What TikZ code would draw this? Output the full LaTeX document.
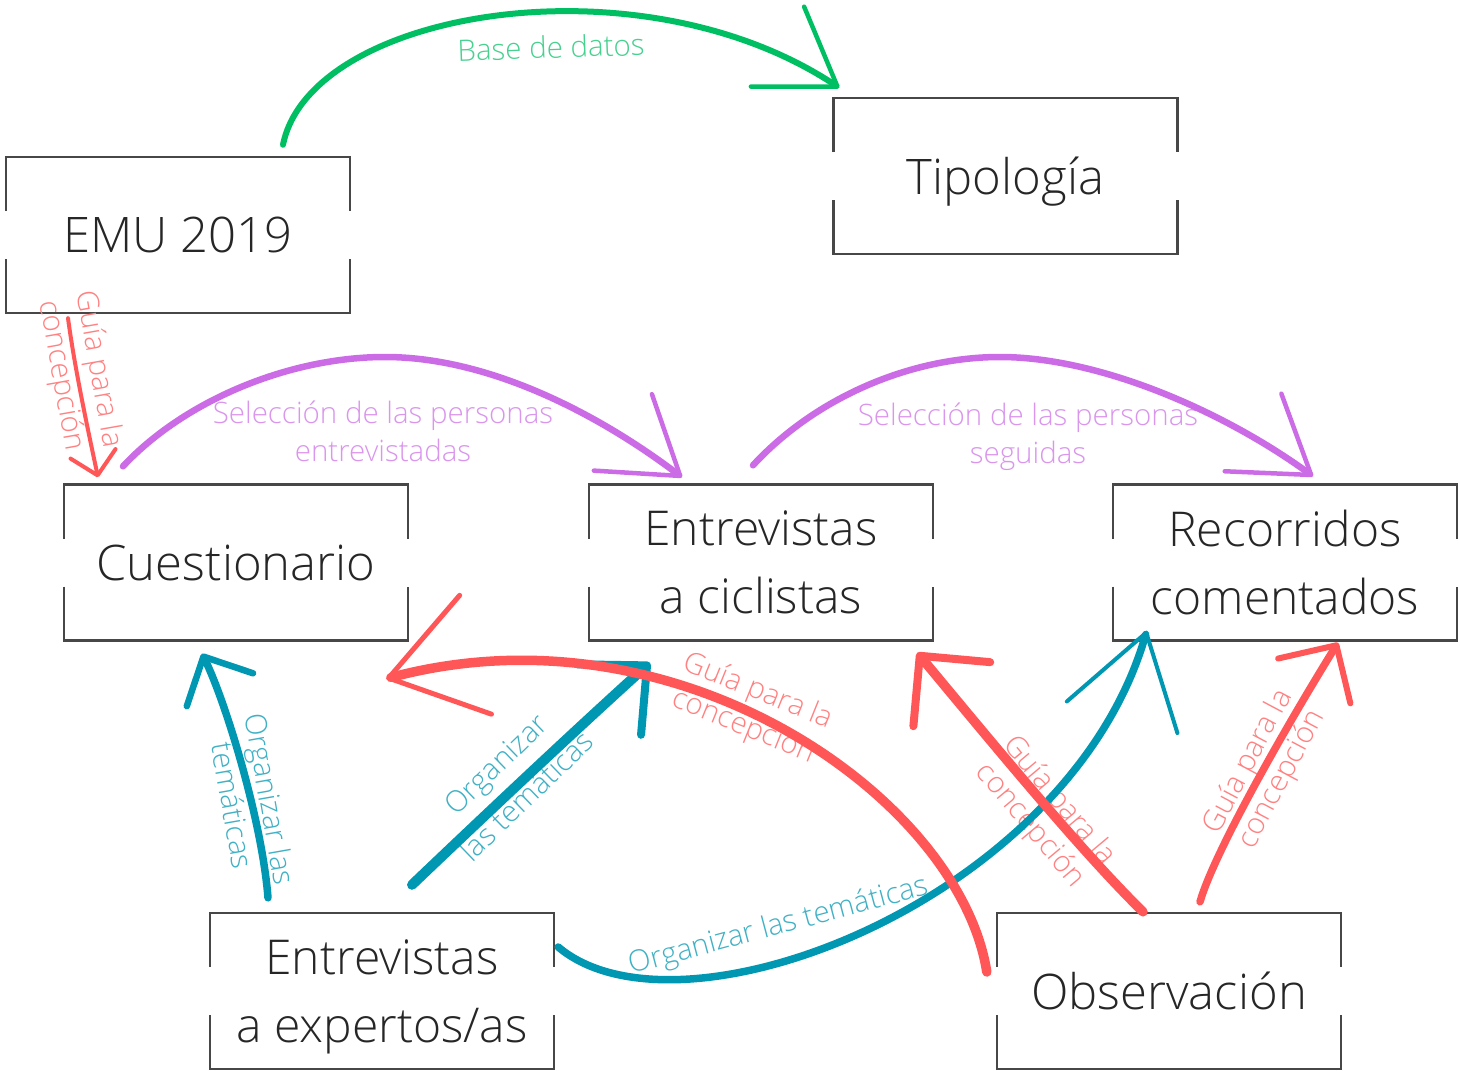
\documentclass[tikz,border=0pt]{standalone}
\usepackage{fontspec}
\IfFontExistsTF{Open Sans Light}{%
  \setmainfont{Open Sans Light}%
  \newcommand{\fsingle}{\fontsize{49}{60}\selectfont}%
  \newcommand{\fdouble}{\fontsize{48}{68}\selectfont}%
  \newcommand{\flabel}{\fontsize{29.5}{38}\selectfont}%
  \newcommand{\flabelwide}{\fontsize{29.5}{44}\selectfont}%
}{%
  \setmainfont{Open Sans}%
  \newcommand{\fsingle}{\fontsize{47.5}{60}\selectfont}%
  \newcommand{\fdouble}{\fontsize{46}{68}\selectfont}%
  \newcommand{\flabel}{\fontsize{28}{38}\selectfont}%
  \newcommand{\flabelwide}{\fontsize{28}{44}\selectfont}%
}
\usetikzlibrary{arrows.meta}
\definecolor{cgreen}{HTML}{00BF63}
\definecolor{cpurple}{HTML}{CB6CE6}
\definecolor{cred}{HTML}{FF5757}
\definecolor{cteal}{HTML}{0097B2}
\definecolor{cbox}{HTML}{474747}
\definecolor{ctext}{HTML}{262626}
\colorlet{lgreen}{cgreen!72!white}
\colorlet{lpurple}{cpurple!72!white}
\colorlet{lred}{cred!75!white}
\colorlet{lteal}{cteal!75!white}
\newcommand{\gapframe}[1]{%
  \draw[boxline] ([yshift=24pt]#1.west) |- (#1.north east) -- ([yshift=24pt]#1.east);
  \draw[boxline] ([yshift=-24pt]#1.west) |- (#1.south east) -- ([yshift=-24pt]#1.east);}
\begin{document}
\begin{tikzpicture}[x=1pt,y=-1pt,
  boxnode/.style={minimum width=344pt, minimum height=156pt, inner sep=0pt, align=center,
    text=ctext, text depth=0pt, font=\fsingle},
  boxnodeb/.style={boxnode, font=\fdouble},
  boxline/.style={draw=cbox, line width=2.5pt},
  lbl/.style={font=\flabel, align=center, inner sep=0pt, text depth=0pt},
  conn/.style={line cap=round, line join=round},
]
\fill[white] (0,0) rectangle (1460,1071);
\useasboundingbox (0,0) rectangle (1460,1071);

% boxes
\node[boxnode] (emu) at (178,235) {EMU 2019};
\node[boxnode] (tipo) at (1005.5,176) {Tipología};
\node[boxnode] (cues) at (236,562.5) {Cuestionario};
\node[boxnodeb] (cicl) at (761,562.5) {Entrevistas\\a ciclistas};
\node[boxnodeb] (reco) at (1285,562.5) {Recorridos\\comentados};
\node[boxnodeb] (expe) at (382,991) {Entrevistas\\a expertos/as};
\node[boxnode] (obse) at (1169,991) {Observación};
\gapframe{emu}
\gapframe{tipo}
\gapframe{cues}
\gapframe{cicl}
\gapframe{reco}
\gapframe{expe}
\gapframe{obse}

% labels
\node[lbl, text=lgreen, rotate=2] (lbase) at (551,47) {Base de datos};
\node[lbl, text=lred, rotate=-80] (lguia1) at (83,372) {Guía para la\\concepción};
\node[lbl, text=lpurple] (lsel1) at (383,431) {Selección de las personas\\entrevistadas};
\node[lbl, text=lpurple] (lsel2) at (1028,433) {Selección de las personas\\seguidas};
\node[lbl, text=lred, rotate=-22] (lguia2) at (752,706) {Guía para la\\concepción};
\node[lbl, text=lteal, rotate=-80] (lorg1) at (252,802) {Organizar las\\temáticas};
\node[lbl, text=lteal, rotate=44, font=\flabelwide] (lorg2) at (511,780) {Organizar\\las temáticas};
\node[lbl, text=lteal, rotate=15] (lorg3) at (778,923) {Organizar las temáticas};
\node[lbl, text=lred, rotate=-50] (lguia3) at (1047,811) {Guía para la\\concepción};
\node[lbl, text=lred, rotate=62] (lguia4) at (1262,769) {Guía para la\\concepción};

% green
\draw[conn, cgreen, line width=6pt, -{Straight Barb[length=72pt, width=96pt, round, line width=4.5pt]}]
  ([shift={(105,-12)}]emu.north) .. controls (310,10) and (640,-45) .. ([shift={(6,-10)}]tipo.north west);
% purple
\draw[conn, cpurple, line width=6.5pt, -{Straight Barb[length=72pt, width=96pt, round, line width=4.5pt]}]
  ([shift={(-113,-18)}]cues.north) .. controls (185,400) and (290,357) .. (385,357)
  .. controls (490,357) and (600,415) .. ([shift={(-79,-7)}]cicl.north);
\draw[conn, cpurple, line width=6.5pt, -{Straight Barb[length=72pt, width=96pt, round, line width=4.5pt]}]
  ([shift={(-8,-19)}]cicl.north) .. controls (815,398) and (910,357) .. (1000,357)
  .. controls (1100,357) and (1225,412) .. ([shift={(28,-8)}]reco.north);
% teal
\draw[conn, cteal, line width=7.5pt, -{Straight Barb[length=37pt, width=74pt, round, line width=6.5pt]}]
  ([shift={(-114,-15)}]expe.north) .. controls (262,820) and (225,700) .. ([shift={(-34,13)}]cues.south);
\draw[conn, cteal, line width=10pt, -{Straight Barb[length=51pt, width=95pt, round, line width=8pt]}]
  ([shift={(30,-28)}]expe.north) .. controls (480,820) and (570,735) .. ([shift={(-111,22)}]cicl.south);
\draw[conn, cteal, line width=7.5pt, -{Straight Barb[length=88pt, width=115pt, round, line width=4pt]}]
  ([shift={(4,-44)}]expe.east) .. controls (680,1050) and (1070,900) .. ([shift={(34,-10)}]reco.south west);
% red
\draw[conn, cred, line width=4pt, -{Straight Barb[length=22pt, width=46pt, round, line width=4pt]}]
  ([shift={(-110,5)}]emu.south) .. controls (75,370) and (88,430) .. ([shift={(-138,-7)}]cues.north);
\draw[conn, cred, line width=9.5pt, -{Straight Barb[length=90pt, width=123pt, round, line width=5pt]}]
  ([shift={(-10,-19)}]obse.west) .. controls (960,800) and (680,600) .. ([shift={(-22,38)}]cues.south east);
\draw[conn, cred, line width=9.5pt, -{Straight Barb[length=50pt, width=100pt, round, line width=8pt]}]
  ([shift={(-26,-1)}]obse.north) .. controls (1080,850) and (990,740) .. ([shift={(-16,12)}]cicl.south east);
\draw[conn, cred, line width=7.5pt, -{Straight Barb[length=42pt, width=85pt, round, line width=6pt]}]
  ([shift={(31,-11)}]obse.north) .. controls (1215,850) and (1290,720) .. ([shift={(53,2)}]reco.south);
\end{tikzpicture}
\end{document}
